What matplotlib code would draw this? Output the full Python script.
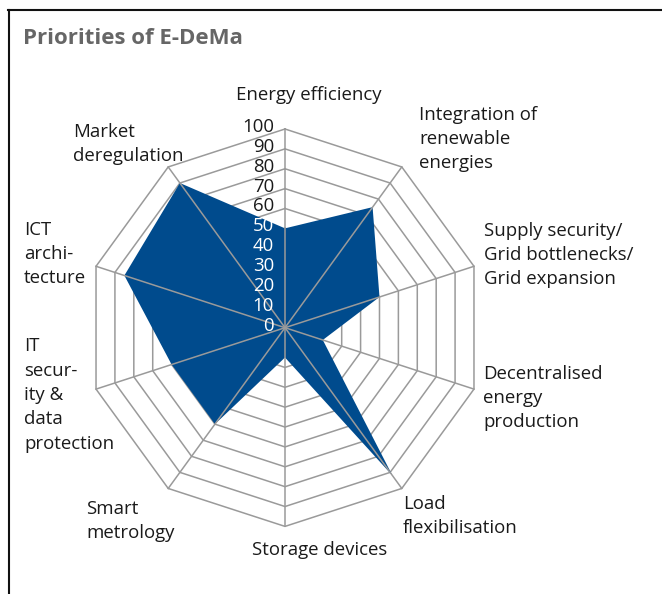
import numpy as np
import matplotlib.pyplot as plt
from matplotlib.lines import Line2D

plt.rcParams['font.family'] = ['Open Sans', 'DejaVu Sans']

categories = [
    "Energy efficiency",
    "Integration of\nrenewable\nenergies",
    "Supply security/\nGrid bottlenecks/\nGrid expansion",
    "Decentralised\nenergy\nproduction",
    "Load\nflexibilisation",
    "Storage devices",
    "Smart\nmetrology",
    "IT\nsecur-\nity &\ndata\nprotection",
    "ICT\narchi-\ntecture",
    "Market\nderegulation",
]
values = [50, 75, 50, 20, 92, 15, 60, 60, 85, 90]
ticks = [0, 10, 20, 30, 40, 50, 60, 70, 80, 90, 100]

# where the first line of each category name sits (pixels from top-left)
label_pos = [
    (236, 95), (419, 115), (484, 231), (483, 374), (403, 504),
    (252, 550), (86, 509), (24, 347), (24, 230), (73, 132),
]

W, H = 662, 594
cx, cy = 285, 327.7        # centre of the web in pixels
scale = 1.987              # pixels per data unit
pitch = 24                 # line pitch of the labels in pixels

fig = plt.figure(figsize=(W / 100, H / 100), dpi=100)
ax = fig.add_axes([0, 0, 1, 1])
ax.set_xlim(-cx / scale, (W - cx) / scale)
ax.set_ylim(-(H - cy) / scale, cy / scale)
ax.axis('off')

n = len(categories)
theta = np.arange(n) * 2 * np.pi / n   # clockwise from the top
sx, sy = np.sin(theta), np.cos(theta)
grid_col = '#9a9a9a'
blue = '#004B8D'

# decagon rings
for r in ticks[1:]:
    ax.plot(np.append(sx, sx[0]) * r, np.append(sy, sy[0]) * r,
            color=grid_col, lw=1.1, zorder=1)

# data polygon
v = np.array(values)
ax.fill(sx * v, sy * v, color=blue, lw=0, zorder=2)

# spokes
for i in range(n):
    ax.plot([0, sx[i] * 100], [0, sy[i] * 100], color=grid_col, lw=1.1, zorder=3)

# value scale along the top spoke
for t in ticks:
    col = 'white' if t <= values[0] else '#1a1a1a'
    ax.text(-5.5, t + 1, str(t), ha='right', va='center', fontsize=13.4,
            color=col, zorder=4)


def px(x, y):
    return x / W, 1 - y / H


for name, (lx, ly) in zip(categories, label_pos):
    nl = name.count('\n')
    fig.text(*px(lx, ly + nl * pitch / 2), name, ha='left', va='center',
             fontsize=13.4, color='#1a1a1a', linespacing=1.45, zorder=5)

fig.text(*px(23, 38), "Priorities of E-DeMa", ha='left', va='center',
         fontsize=16, fontweight='bold', color='#666666')

# open frame: top and left edges
fig.add_artist(Line2D([8 / W, 1], [1 - 10 / H, 1 - 10 / H],
                      transform=fig.transFigure, color='#111111', lw=1.5))
fig.add_artist(Line2D([9 / W, 9 / W], [1 - 10 / H, 0],
                      transform=fig.transFigure, color='#111111', lw=1.5))

fig.savefig('out.png', dpi=100)
